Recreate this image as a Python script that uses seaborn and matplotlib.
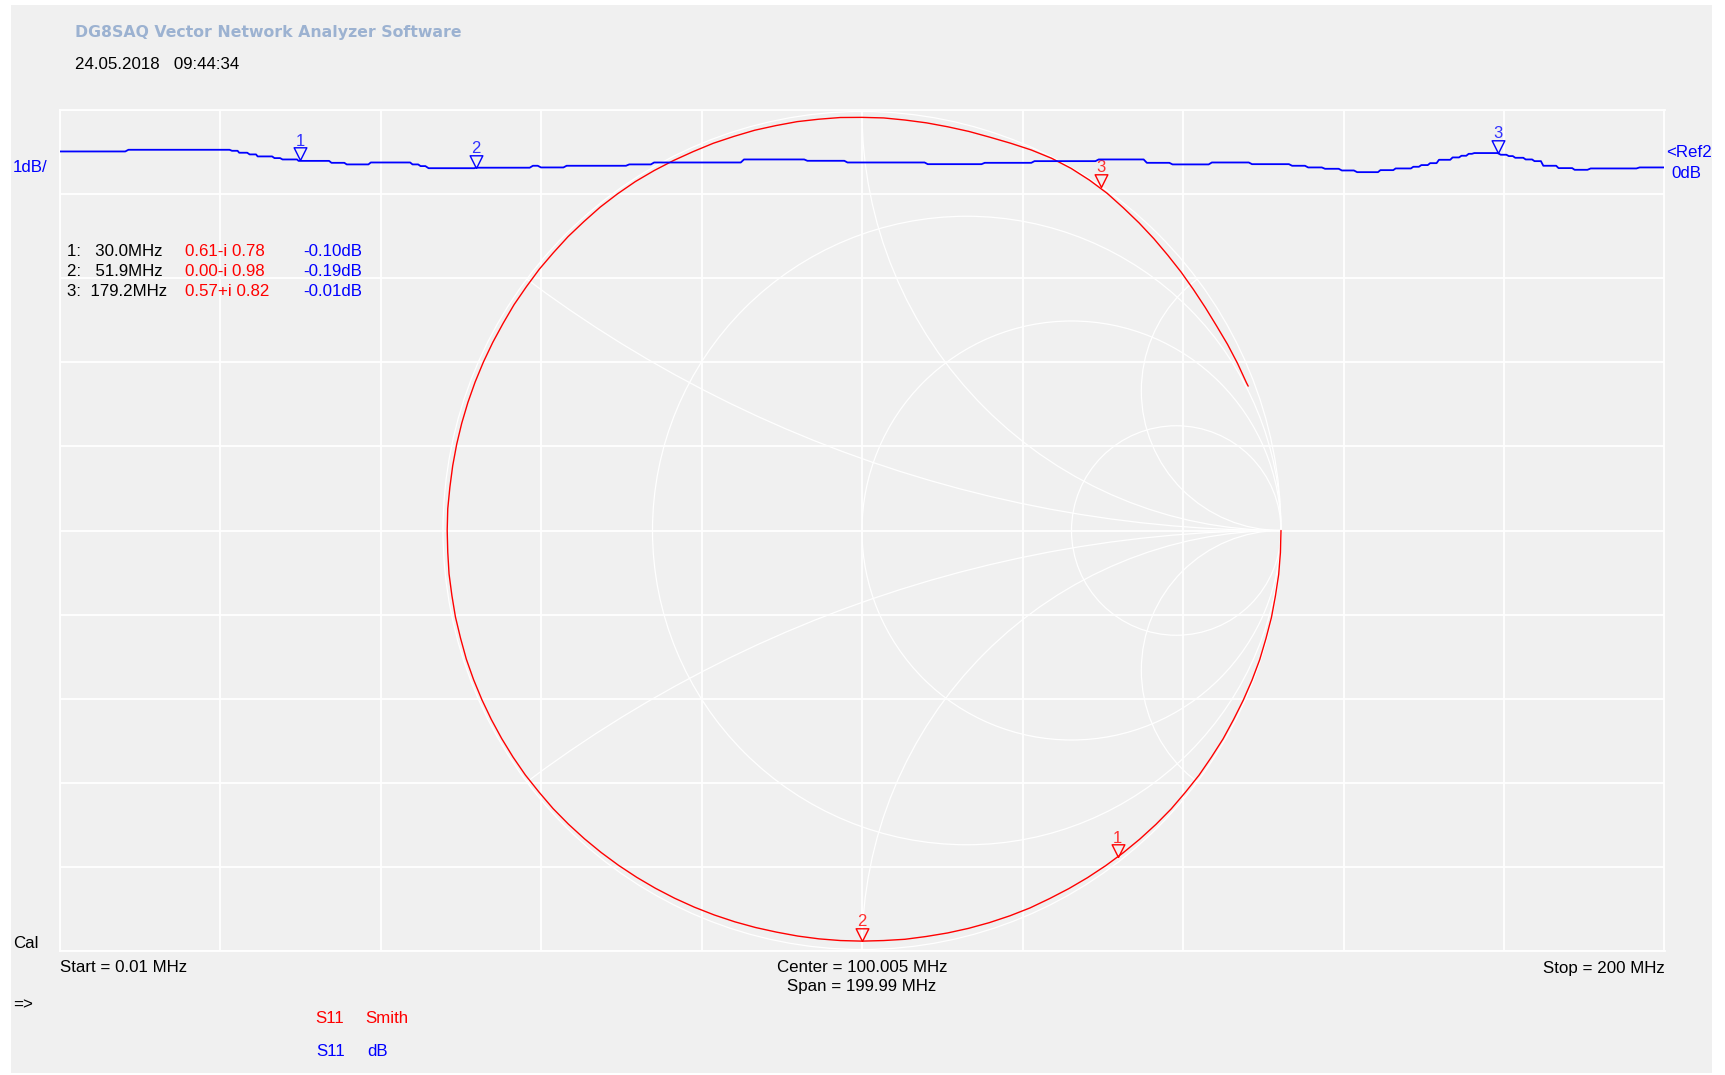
import numpy as np
import pandas as pd
import matplotlib
matplotlib.use("Agg")
import matplotlib.pyplot as plt
from matplotlib.patches import Circle, Rectangle
import seaborn as sns

# ---- S11 magnitude sweep: flat runs of the stepped trace (MHz, dB) ----
seg_lo_mhz = [0.01, 8.6, 21.5, 22.4, 23.7, 24.7, 26.8, 27.8, 29.8, 33.9, 35.8, 38.8,
              44.0, 45.0, 46.0, 51.9, 59.0, 60.0, 63.2, 71.0, 74.1, 85.3, 93.2, 98.2,
              108.2, 115.3, 121.5, 129.5, 135.5, 138.7, 143.6, 148.6, 153.6, 155.6,
              157.7, 159.8, 161.7, 164.6, 166.5, 168.7, 169.7, 170.8, 171.9, 173.6,
              174.7, 175.6, 176.3, 179.6, 180.6, 181.4, 182.7, 183.8, 184.9, 186.8,
              188.8, 190.8, 196.9]
seg_hi_mhz = [8.2, 21.2, 22.2, 23.4, 24.5, 26.5, 27.5, 29.6, 33.6, 35.5, 38.5, 43.7,
              44.7, 45.6, 51.7, 58.6, 59.6, 62.8, 70.6, 73.7, 84.9, 92.8, 97.8, 107.8,
              114.9, 121.1, 129.1, 135.1, 138.3, 143.2, 148.2, 153.2, 155.2, 157.3,
              159.4, 161.3, 164.3, 166.2, 168.4, 169.4, 170.5, 171.6, 173.3, 174.4,
              175.3, 176.0, 179.2, 180.3, 181.1, 182.4, 183.5, 184.6, 186.5, 188.5,
              190.4, 196.5, 200.0]
seg_db = [0.007, 0.027, 0.015, -0.008, -0.028, -0.052, -0.072, -0.088, -0.105, -0.128,
          -0.147, -0.124, -0.147, -0.167, -0.192, -0.186, -0.163, -0.183, -0.163, -0.147,
          -0.124, -0.088, -0.104, -0.124, -0.144, -0.128, -0.108, -0.088, -0.128, -0.147,
          -0.124, -0.144, -0.163, -0.183, -0.199, -0.219, -0.239, -0.215, -0.195, -0.175,
          -0.155, -0.132, -0.092, -0.064, -0.044, -0.021, -0.012, -0.032, -0.048, -0.068,
          -0.088, -0.108, -0.163, -0.191, -0.211, -0.195, -0.183]

# ---- S11 locus on the Smith chart: unwrapped phase (deg) and |Gamma| ----
smith_phase_deg = [0, -3, -6, -9, -12, -15, -18, -21, -24, -27, -30, -33, -36, -39,
                   -42, -45, -48, -51, -54, -57, -60, -63, -66, -69, -72, -75, -78,
                   -81, -84, -87, -90, -93, -96, -99, -102, -105, -108, -111, -114,
                   -117, -120, -123, -126, -129, -132, -135, -138, -141, -144, -147,
                   -150, -153, -156, -159, -162, -165, -168, -171, -174, -177, -180,
                   -183, -186, -189, -192, -195, -198, -201, -204, -207, -210, -213,
                   -216, -219, -222, -225, -228, -231, -234, -237, -240, -243, -246,
                   -249, -252, -255, -258, -261, -264, -267, -270, -273, -276, -279,
                   -282, -285, -288, -291, -294, -297, -300, -303, -306, -309, -312,
                   -315, -318, -321, -324, -327, -330, -333, -336, -339, -339.5]
smith_mag = [1.000, 1.000, 1.000, 0.999, 0.999, 0.998, 0.998, 0.997, 0.996, 0.995,
             0.995, 0.994, 0.994, 0.993, 0.993, 0.992, 0.991, 0.990, 0.989, 0.988,
             0.987, 0.986, 0.986, 0.985, 0.984, 0.983, 0.982, 0.981, 0.981, 0.980,
             0.980, 0.980, 0.980, 0.980, 0.980, 0.981, 0.982, 0.983, 0.984, 0.985,
             0.986, 0.987, 0.988, 0.989, 0.990, 0.991, 0.992, 0.992, 0.993, 0.993,
             0.993, 0.993, 0.993, 0.993, 0.993, 0.992, 0.992, 0.991, 0.991, 0.990,
             0.990, 0.990, 0.989, 0.989, 0.989, 0.989, 0.989, 0.989, 0.989, 0.989,
             0.989, 0.990, 0.990, 0.991, 0.991, 0.992, 0.992, 0.993, 0.993, 0.993,
             0.992, 0.991, 0.990, 0.990, 0.989, 0.989, 0.988, 0.988, 0.987, 0.987,
             0.986, 0.986, 0.985, 0.985, 0.985, 0.986, 0.987, 0.990, 0.994, 0.997,
             0.998, 0.997, 0.995, 0.991, 0.988, 0.985, 0.982, 0.980, 0.978, 0.977,
             0.977, 0.979, 0.981, 0.983, 0.984]

# ---- markers ----
marker_ids = ["1", "2", "3"]
marker_freq_mhz = [30.0, 51.9, 179.2]
marker_re = [0.61, 0.00, 0.57]
marker_im = [-0.78, -0.98, 0.82]
marker_db = [-0.10, -0.19, -0.01]
marker_rows = ["1:   30.0MHz", "2:   51.9MHz", "3:  179.2MHz"]
marker_gamma_txt = ["0.61-i 0.78", "0.00-i 0.98", "0.57+i 0.82"]
marker_db_txt = ["-0.10dB", "-0.19dB", "-0.01dB"]

# Smith chart grid values
smith_r_values = [1 / 3, 1.0, 3.0]
smith_x_values = [1 / 3, 1.0, 3.0]

# sweep settings
f_start, f_stop = 0.01, 200.0
db_top, db_bottom = 0.5, -9.5

# ------------------------------------------------------------------
sns.set_style("white")
plt.rcParams["font.family"] = ["Liberation Sans", "DejaVu Sans"]

W, H = 1725, 1075
BG = "#f0f0f0"
BLUE = "#0000ff"
RED = "#ff0000"
fig = plt.figure(figsize=(W / 100, H / 100), dpi=100, facecolor="white")
fig.patches.append(Rectangle((11 / W, 2 / H), 1701 / W, 1068 / H,
                             transform=fig.transFigure, facecolor=BG,
                             edgecolor="none", zorder=-10))

rect = [59.5 / W, (H - 951) / H, 1605 / W, 841 / H]
ax_bg = fig.add_axes(rect)
ax_sm = fig.add_axes(rect)
ax_db = fig.add_axes(rect)

# background grid, 10 x 10 divisions
ax_bg.set_facecolor(BG)
ax_bg.set_xlim(f_start, f_stop)
ax_bg.set_ylim(db_bottom, db_top)
ax_bg.set_xticks(np.linspace(f_start, f_stop, 11))
ax_bg.set_yticks(np.linspace(db_bottom, db_top, 11))
ax_bg.grid(True, color="white", lw=1.3)
ax_bg.tick_params(length=0, labelbottom=False, labelleft=False)
for sp in ax_bg.spines.values():
    sp.set_color("white")
    sp.set_linewidth(1.3)

# Smith chart axes, equal pixel scaling, centred in the plot area
ax_w_px, ax_h_px = 1605, 841
unit_px = 419.0
ax_sm.set_xlim(-ax_w_px / 2 / unit_px, ax_w_px / 2 / unit_px)
ax_sm.set_ylim(-ax_h_px / 2 / unit_px, ax_h_px / 2 / unit_px)
ax_sm.axis("off")
ax_sm.patch.set_alpha(0)

grid_kw = dict(fill=False, ec="white", lw=0.9)
unit_circle = Circle((0, 0), 1.0, **grid_kw)
ax_sm.add_patch(unit_circle)
for r in smith_r_values:
    ax_sm.add_patch(Circle((r / (1 + r), 0), 1 / (1 + r), **grid_kw))
for xv in smith_x_values:
    for sgn in (1, -1):
        arc = Circle((1.0, sgn / xv), 1 / xv, **grid_kw)
        ax_sm.add_patch(arc)
        arc.set_clip_path(unit_circle)

phase = np.deg2rad(np.array(smith_phase_deg))
mag = np.array(smith_mag)
smith_df = pd.DataFrame({"re": mag * np.cos(phase), "im": mag * np.sin(phase)})
sns.lineplot(data=smith_df, x="re", y="im", sort=False, estimator=None,
             color=RED, lw=1.0, ax=ax_sm)

tri = [(0, 0), (-0.5, 1), (0.5, 1), (0, 0)]
ax_sm.plot(marker_re, marker_im, ls="none", marker=tri, ms=18.3,
           mfc="none", mec=RED, mew=1.0)
for lab, x, y in zip(marker_ids, marker_re, marker_im):
    ax_sm.annotate(lab, (x, y), xytext=(0, 10.6), textcoords="offset points",
                   ha="center", va="baseline", color="#ff3030", fontsize=12)

# dB trace
ax_db.set_xlim(f_start, f_stop)
ax_db.set_ylim(db_bottom, db_top)
ax_db.axis("off")
ax_db.patch.set_alpha(0)

fr, dbv = [], []
for lo, hi, v in zip(seg_lo_mhz, seg_hi_mhz, seg_db):
    fr += [lo, hi]
    dbv += [v, v]
db_df = pd.DataFrame({"freq": fr, "db": dbv})
sns.lineplot(data=db_df, x="freq", y="db", sort=False, estimator=None,
             color=BLUE, lw=1.3, ax=ax_db)
ax_db.plot(marker_freq_mhz, marker_db, ls="none", marker=tri, ms=18.3,
           mfc="none", mec=BLUE, mew=1.0)
for lab, x, y in zip(marker_ids, marker_freq_mhz, marker_db):
    ax_db.annotate(lab, (x, y), xytext=(0, 10.6), textcoords="offset points",
                   ha="center", va="baseline", color="#3030ff", fontsize=12)


# ---- text ----
def put(x, y, s, color="black", ha="left", **kw):
    kw.setdefault("fontsize", 12.2)
    fig.text(x / W, 1 - y / H, s, color=color, ha=ha, va="baseline", **kw)


put(75, 37.3, "DG8SAQ Vector Network Analyzer Software", color="#9cb2d1",
    fontsize=11.3, fontweight="bold", family=["DejaVu Sans"])
put(75, 69.3, "24.05.2018   09:44:34")
put(13, 171.7, "1dB/", color=BLUE)
put(1666, 157.3, "<Ref2", color=BLUE)
put(1671, 178.3, "0dB", color=BLUE)

for i, (row, g, d) in enumerate(zip(marker_rows, marker_gamma_txt, marker_db_txt)):
    yb = 256 + 20 * i
    put(67, yb, row)
    put(185, yb, g, color=RED)
    put(303.5, yb, d, color=BLUE)

put(13, 948.3, "Cal")
put(59.5, 972.5, "Start = 0.01 MHz")
put(862, 972, "Center = 100.005 MHz", ha="center")
put(862, 991.5, "Span = 199.99 MHz", ha="center")
put(1665, 972.5, "Stop = 200 MHz", ha="right")
put(13, 1009, "=>")
put(315.5, 1023.3, "S11", color=RED)
put(365.5, 1023.3, "Smith", color=RED)
put(316.5, 1056, "S11", color=BLUE)
put(367, 1056, "dB", color=BLUE)

fig.savefig("out.png", dpi=100, facecolor=fig.get_facecolor())
